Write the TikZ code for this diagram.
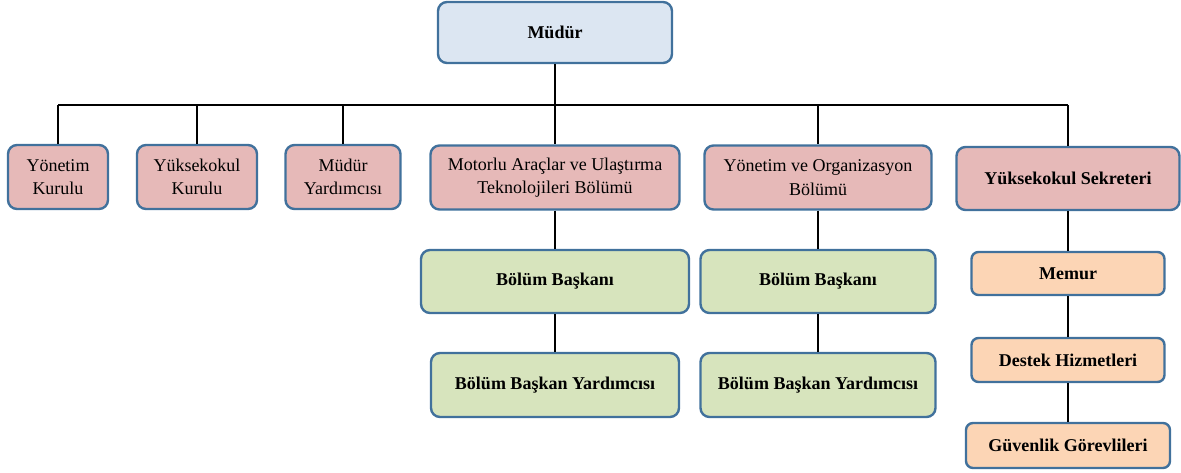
\documentclass[tikz,border=0pt]{standalone}
\usepackage{fontspec}
\setmainfont{Liberation Serif}
\definecolor{edge}{HTML}{41719C}
\definecolor{pinkf}{HTML}{E6B9B8}
\definecolor{greenf}{HTML}{D7E4BD}
\definecolor{orangef}{HTML}{FCD5B5}
\definecolor{bluef}{HTML}{DCE6F2}
\tikzset{
  box/.style={draw=edge, line width=2.4pt, rounded corners=9pt, align=center, inner sep=0pt,
    font=\fontsize{18}{23.5}\selectfont},
  bluebox/.style={box, fill=bluef, font=\fontsize{18}{23.5}\selectfont\bfseries},
  pinkbox/.style={box, fill=pinkf},
  pinkbold/.style={box, fill=pinkf, font=\fontsize{18}{23.5}\selectfont\bfseries},
  greenbox/.style={box, fill=greenf, font=\fontsize{18}{23.5}\selectfont\bfseries},
  orangebox/.style={box, fill=orangef, rounded corners=7pt, font=\fontsize{18}{23.5}\selectfont\bfseries},
  conn/.style={line width=1.5pt, black}
}
\begin{document}
\begin{tikzpicture}[x=1pt,y=-1pt]
\useasboundingbox (0,0) rectangle (1181,472);
% top
\node[bluebox, minimum width=234, minimum height=61] (mudur) at (555,32.5) {Müdür};
% level 1
\node[pinkbox, minimum width=100, minimum height=64] (yk) at (58,177) {Yönetim\\Kurulu};
\node[pinkbox, minimum width=120, minimum height=64] (ykk) at (197,177) {Yüksekokul\\Kurulu};
\node[pinkbox, minimum width=115, minimum height=64] (my) at (343,177) {Müdür\\Yardımcısı};
\node[pinkbox, minimum width=249, minimum height=64] (mot) at (555,177.5) {Motorlu Araçlar ve Ulaştırma\\Teknolojileri Bölümü};
\node[pinkbox, minimum width=227, minimum height=64] (yo) at (818,177.5) {Yönetim ve Organizasyon\\Bölümü};
\node[pinkbold, minimum width=223, minimum height=63] (ys) at (1068,178.5) {Yüksekokul Sekreteri};
% level 2 green
\node[greenbox, minimum width=268, minimum height=63] (bb1) at (555,281.5) {Bölüm Başkanı};
\node[greenbox, minimum width=235, minimum height=63] (bb2) at (818,281.5) {Bölüm Başkanı};
\node[greenbox, minimum width=248, minimum height=64] (bby1) at (555,385) {Bölüm Başkan Yardımcısı};
\node[greenbox, minimum width=235, minimum height=64] (bby2) at (818,385) {Bölüm Başkan Yardımcısı};
% orange
\node[orangebox, minimum width=193, minimum height=43] (memur) at (1068,273.5) {Memur};
\node[orangebox, minimum width=193, minimum height=44] (destek) at (1068,360) {Destek Hizmetleri};
\node[orangebox, minimum width=204, minimum height=45] (guv) at (1068,445.5) {Güvenlik Görevlileri};
% bus
\coordinate (bus) at (555,105);
\draw[conn] (mudur.south) -- (bus);
\draw[conn] (yk.north |- bus) -- (ys.north |- bus);
\foreach \n in {yk,ykk,my,mot,yo,ys}{
  \draw[conn] (\n.north |- bus) -- (\n.north);
}
\draw[conn] (mot.south) -- (bb1.north);
\draw[conn] (bb1.south) -- (bby1.north);
\draw[conn] (yo.south) -- (bb2.north);
\draw[conn] (bb2.south) -- (bby2.north);
\draw[conn] (ys.south) -- (memur.north);
\draw[conn] (memur.south) -- (destek.north);
\draw[conn] (destek.south) -- (guv.north);
\end{tikzpicture}
\end{document}
